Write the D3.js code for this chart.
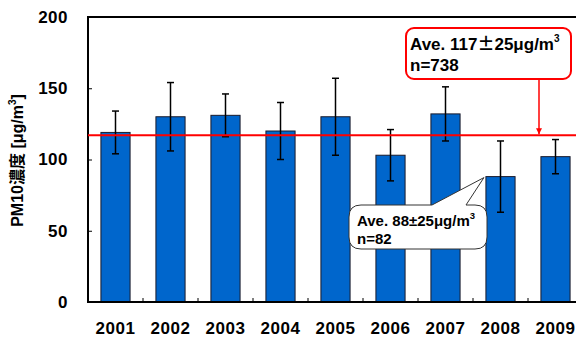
<!DOCTYPE html>
<html>
<head>
<meta charset="utf-8">
<script src="https://cdn.jsdelivr.net/npm/d3@7"></script>
<style>
  html, body { margin: 0; padding: 0; background: #fff; overflow: hidden; }
  svg { display: block; font-family: "Liberation Sans", Arial, sans-serif; }
</style>
</head>
<body>
<svg id="chart" width="576" height="339"></svg>
<script>
// Annual mean PM10 concentration with standard deviation
const years = ["2001", "2002", "2003", "2004", "2005", "2006", "2007", "2008", "2009"];
const means = [119, 130, 131, 120, 130, 103, 132, 88, 102];
const sds   = [15, 24, 15, 20, 27, 18, 19, 25, 12];
const yTicks = [0, 50, 100, 150, 200];
const overallMean = 117;
const overallLabel = ["Ave. 117", "±", "25μg/m", "n=738"];
const year2008Label = ["Ave. 88±25μg/m", "n=82"];

const svg = d3.select("#chart");
const margin = { left: 88, top: 17, bottom: 302 };
const plotRight = margin.left + 55 * years.length;

const x = d3.scaleBand().domain(years).range([margin.left, plotRight]).paddingInner(0.47).paddingOuter(0.235);
const xOuter = d3.scaleBand().domain(years).range([margin.left, plotRight]);
const y = d3.scaleLinear().domain([0, 200]).range([margin.bottom, margin.top]);

// bars
svg.append("g").selectAll("rect").data(years).join("rect")
  .attr("x", d => x(d))
  .attr("y", (d, i) => y(means[i]))
  .attr("width", x.bandwidth())
  .attr("height", (d, i) => y(0) - y(means[i]))
  .attr("fill", "#0066cc")
  .attr("stroke", "#1a1a2a")
  .attr("stroke-width", 1);

// error bars
const eb = svg.append("g").attr("stroke", "#000").attr("stroke-width", 1.5);
years.forEach((d, i) => {
  const cx = x(d) + x.bandwidth() / 2;
  const hi = y(means[i] + sds[i]), lo = y(means[i] - sds[i]);
  eb.append("line").attr("x1", cx).attr("x2", cx).attr("y1", hi).attr("y2", lo);
  eb.append("line").attr("x1", cx - 3.5).attr("x2", cx + 3.5).attr("y1", hi).attr("y2", hi);
  eb.append("line").attr("x1", cx - 3.5).attr("x2", cx + 3.5).attr("y1", lo).attr("y2", lo);
});

// frame
svg.append("rect")
  .attr("x", margin.left).attr("y", margin.top)
  .attr("width", plotRight - margin.left).attr("height", margin.bottom - margin.top)
  .attr("fill", "none").attr("stroke", "#000").attr("stroke-width", 2);

// y axis
const yAxis = svg.append("g").attr("transform", `translate(${margin.left},0)`)
  .call(d3.axisLeft(y).tickValues(yTicks).tickSize(-4).tickPadding(20));
yAxis.select(".domain").remove();
yAxis.selectAll("line").attr("stroke", "#000").attr("stroke-width", 1);
yAxis.selectAll("text").attr("font-size", 17).attr("font-weight", "bold")
  .attr("letter-spacing", 0.5)
  .attr("fill", "#000").attr("font-family", "Liberation Sans, Arial, sans-serif");

// x axis: labels under band centres, ticks at band boundaries
const xAxis = svg.append("g").attr("transform", `translate(0,${margin.bottom})`)
  .call(d3.axisBottom(x).tickSize(0).tickPadding(20));
xAxis.select(".domain").remove();
xAxis.selectAll("text").attr("font-size", 17).attr("font-weight", "bold")
  .attr("letter-spacing", 0.5)
  .attr("fill", "#000").attr("font-family", "Liberation Sans, Arial, sans-serif");
svg.append("g").selectAll("line").data(years.slice(1)).join("line")
  .attr("x1", d => xOuter(d)).attr("x2", d => xOuter(d))
  .attr("y1", margin.bottom).attr("y2", margin.bottom - 4)
  .attr("stroke", "#000").attr("stroke-width", 1);

// y axis title
const yt = svg.append("text")
  .attr("transform", `translate(23,${(margin.top + margin.bottom) / 2 + 1}) rotate(-90)`)
  .attr("text-anchor", "middle").attr("font-size", 16).attr("font-weight", "bold").attr("fill", "#000");
yt.append("tspan").text("PM10");
yt.append("tspan").attr("font-family", "Noto Sans CJK JP").text("濃度");
yt.append("tspan").text(" [μg/m");
yt.append("tspan").attr("font-size", 10).attr("dy", -7).text("3");
yt.append("tspan").attr("dy", 7).text("]");

// overall mean line
svg.append("line")
  .attr("x1", margin.left).attr("x2", plotRight)
  .attr("y1", y(overallMean)).attr("y2", y(overallMean))
  .attr("stroke", "#ff0000").attr("stroke-width", 2);

// overall mean callout
const defs = svg.append("defs");
defs.append("marker").attr("id", "arrow").attr("viewBox", "0 0 10 10")
  .attr("refX", 10).attr("refY", 5).attr("markerWidth", 4).attr("markerHeight", 4)
  .attr("orient", "auto-start-reverse")
  .append("path").attr("d", "M0,0 L10,5 L0,10 z").attr("fill", "#ff0000");

const calloutX = 539;
svg.append("line")
  .attr("x1", calloutX).attr("x2", calloutX)
  .attr("y1", 79).attr("y2", y(overallMean) - 1)
  .attr("stroke", "#ff0000").attr("stroke-width", 1.5)
  .attr("marker-end", "url(#arrow)");
svg.append("rect")
  .attr("x", 406).attr("y", 28).attr("width", 165).attr("height", 51).attr("rx", 8)
  .attr("fill", "#fff").attr("stroke", "#ff0000").attr("stroke-width", 2);
const t1 = svg.append("text").attr("x", 410).attr("y", 50)
  .attr("font-size", 17).attr("font-weight", "bold").attr("fill", "#000");
t1.append("tspan").text(overallLabel[0]);
t1.append("tspan").attr("font-family", "Noto Sans CJK JP").text(overallLabel[1]);
t1.append("tspan").text(overallLabel[2]);
t1.append("tspan").attr("font-size", 10).attr("dy", -8).text("3");
svg.append("text").attr("x", 410).attr("y", 71)
  .attr("font-size", 17).attr("font-weight", "bold").attr("fill", "#000").text(overallLabel[3]);

// 2008 speech bubble pointing at the 2008 bar
const tipX = x("2008"), tipY = y(means[7]);
const bx0 = 349, bx1 = 487, by0 = 205, by1 = 249, r = 12;
const bubble = d3.path();
bubble.moveTo(bx0 + r, by0);
bubble.lineTo(432, by0);
bubble.lineTo(tipX - 2, tipY + 1);
bubble.lineTo(466, by0);
bubble.lineTo(bx1 - r, by0);
bubble.quadraticCurveTo(bx1, by0, bx1, by0 + r);
bubble.lineTo(bx1, by1 - r);
bubble.quadraticCurveTo(bx1, by1, bx1 - r, by1);
bubble.lineTo(bx0 + r, by1);
bubble.quadraticCurveTo(bx0, by1, bx0, by1 - r);
bubble.lineTo(bx0, by0 + r);
bubble.quadraticCurveTo(bx0, by0, bx0 + r, by0);
bubble.closePath();
svg.append("path").attr("d", bubble.toString())
  .attr("fill", "#fff").attr("stroke", "#333").attr("stroke-width", 1);
const t2 = svg.append("text").attr("x", 357).attr("y", 226)
  .attr("font-size", 15).attr("font-weight", "bold").attr("fill", "#000");
t2.append("tspan").text(year2008Label[0]);
t2.append("tspan").attr("font-size", 9.5).attr("dy", -7).text("3");
svg.append("text").attr("x", 357).attr("y", 243.5)
  .attr("font-size", 15).attr("font-weight", "bold").attr("fill", "#000").text(year2008Label[1]);
</script>
</body>
</html>
